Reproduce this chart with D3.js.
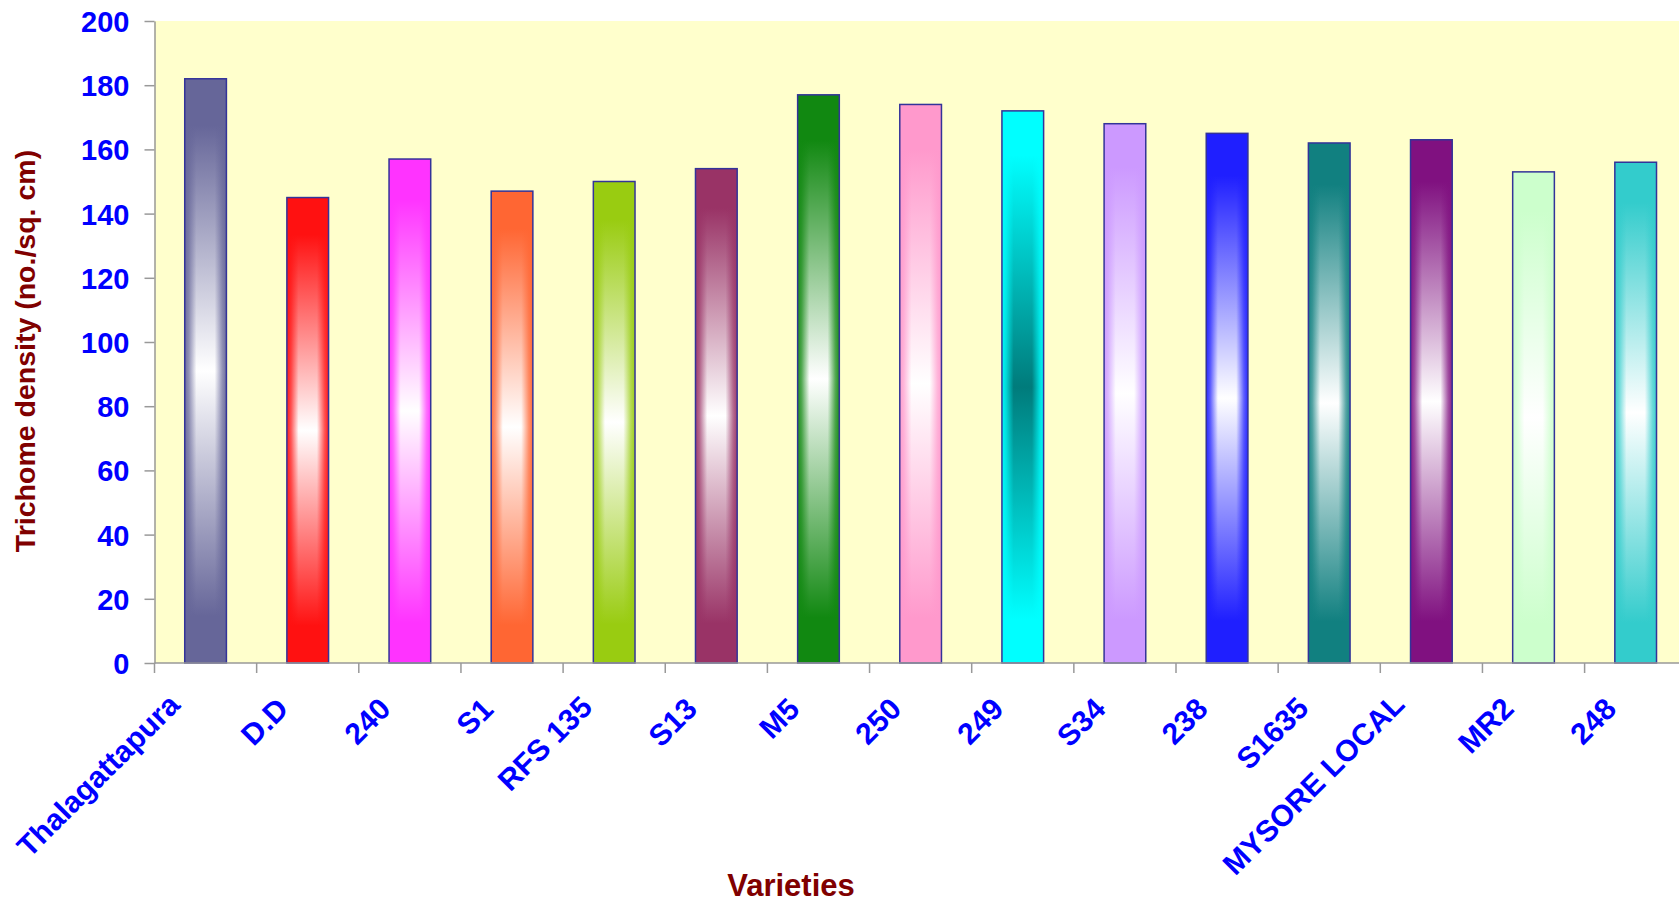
<!DOCTYPE html>
<html>
<head>
<meta charset="utf-8">
<script src="https://cdn.jsdelivr.net/npm/d3@7"></script>
<style>
  html, body { margin: 0; padding: 0; background: #ffffff; }
  svg { display: block; font-family: "Liberation Sans", Arial, sans-serif; }
</style>
</head>
<body>
<svg id="chart" width="1679" height="902"></svg>
<script>
// ---- data ----
const categories = ["Thalagattapura", "D.D", "240", "S1", "RFS 135", "S13", "M5", "250", "249", "S34", "238", "S1635", "MYSORE LOCAL", "MR2", "248"];
const values = [182, 145, 157, 147, 150, 154, 177, 174, 172, 168, 165, 162, 163, 153, 156];
const barColors = ["#666699", "#FF1111", "#FF33FF", "#FF6633", "#99CC11", "#993366", "#118811", "#FF99CC", "#00FFFF", "#CC99FF", "#1F1FFF", "#118080", "#801180", "#CCFFCC", "#33CCCC"];
const centerColors = ["#ffffff", "#ffffff", "#ffffff", "#ffffff", "#ffffff", "#ffffff", "#ffffff", "#ffffff", "#007B7B", "#ffffff", "#ffffff", "#ffffff", "#ffffff", "#ffffff", "#ffffff"];
const yTicks = [0, 20, 40, 60, 80, 100, 120, 140, 160, 180, 200];
const yTitle = "Trichome density (no./sq. cm)";
const xTitle = "Varieties";

(function () {
  const svg = d3.select("#chart");
  const pLeft = 154.5, pTop = 21, pBottom = 663;
  const step = 102.15;
  const pRight = pLeft + step * categories.length;

  const x = d3.scaleBand().domain(categories).range([pLeft, pRight])
    .paddingInner(0.592).paddingOuter(0.296);
  const y = d3.scaleLinear().domain([0, 200]).range([pBottom, pTop]);

  const defs = svg.append("defs");

  // plot background
  svg.append("rect").attr("x", pLeft).attr("y", pTop)
    .attr("width", pRight - pLeft).attr("height", pBottom - pTop)
    .attr("fill", "#FFFFCC");

  // gradients
  categories.forEach((c, i) => {
    const v = defs.append("linearGradient").attr("id", "gv" + i)
      .attr("x1", 0).attr("y1", 0).attr("x2", 0).attr("y2", 1);
    [[0, barColors[i]], [0.08, barColors[i]], [0.5, centerColors[i]], [0.92, barColors[i]], [1, barColors[i]]]
      .forEach(s => v.append("stop").attr("offset", s[0]).attr("stop-color", s[1]));
    const h = defs.append("linearGradient").attr("id", "gh" + i)
      .attr("x1", 0).attr("y1", 0).attr("x2", 1).attr("y2", 0);
    [[0, 0.95], [0.1, 0.7], [0.28, 0.0], [0.72, 0.0], [0.9, 0.7], [1, 0.95]]
      .forEach(s => h.append("stop").attr("offset", s[0]).attr("stop-color", barColors[i]).attr("stop-opacity", s[1]));
  });

  const bars = svg.append("g").selectAll("g").data(categories).join("g");
  bars.append("rect")
    .attr("x", d => x(d)).attr("y", (d, i) => y(values[i]))
    .attr("width", x.bandwidth()).attr("height", (d, i) => y(0) - y(values[i]))
    .attr("fill", (d, i) => `url(#gv${i})`);
  bars.append("rect")
    .attr("x", d => x(d)).attr("y", (d, i) => y(values[i]))
    .attr("width", x.bandwidth()).attr("height", (d, i) => y(0) - y(values[i]))
    .attr("fill", (d, i) => `url(#gh${i})`)
    .attr("stroke", "#333399").attr("stroke-width", 1.5);

  // y axis
  const yAxis = svg.append("g").attr("transform", `translate(${pLeft},0)`)
    .call(d3.axisLeft(y).tickValues(yTicks).tickSize(10).tickPadding(15).tickSizeOuter(0));
  yAxis.select(".domain").attr("stroke", "#999999").attr("stroke-width", 1.5);
  yAxis.selectAll(".tick line").attr("stroke", "#999999").attr("stroke-width", 1.5);
  yAxis.selectAll(".tick text")
    .attr("fill", "#0000FF").attr("font-size", 29).attr("font-weight", "bold")
    .attr("font-family", "'Liberation Sans', Arial, sans-serif")
    .attr("dy", "0.36em");

  // x axis line and boundary ticks
  const xa = svg.append("g");
  xa.append("line").attr("x1", pLeft).attr("x2", pRight).attr("y1", pBottom).attr("y2", pBottom)
    .attr("stroke", "#999999").attr("stroke-width", 1.5);
  xa.selectAll("line.tk").data(d3.range(categories.length + 1)).join("line")
    .attr("class", "tk")
    .attr("x1", i => pLeft + i * x.step()).attr("x2", i => pLeft + i * x.step())
    .attr("y1", pBottom).attr("y2", pBottom + 10)
    .attr("stroke", "#999999").attr("stroke-width", 1.5);

  const labels = xa.selectAll("text").data(categories).join("text")
    .attr("text-anchor", "end")
    .attr("fill", "#0000FF").attr("font-size", 30).attr("font-weight", "bold")
    .text(d => d);
  labels.each(function (d) {
    const w = this.getComputedTextLength();
    const cx = x(d) + x.bandwidth() / 2 - 15.5 - 0.04 * w;
    const cy = pBottom + 49 - 0.025 * w;
    d3.select(this).attr("transform", `translate(${cx},${cy}) rotate(-45)`);
  });

  // titles
  svg.append("text").attr("transform", "translate(35,351) rotate(-90)")
    .attr("text-anchor", "middle").attr("fill", "#800000")
    .attr("font-size", 28.5).attr("font-weight", "bold").text(yTitle);
  svg.append("text").attr("x", 791).attr("y", 896)
    .attr("text-anchor", "middle").attr("fill", "#800000")
    .attr("font-size", 31).attr("font-weight", "bold").text(xTitle);
})();
</script>
</body>
</html>
